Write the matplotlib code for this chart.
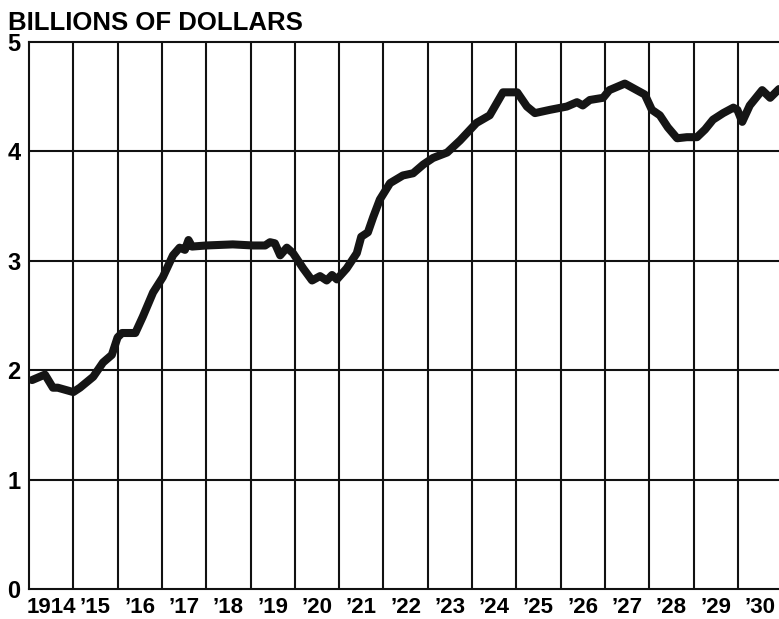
import matplotlib.pyplot as plt

# monthly-ish readings (year, billions of dollars)
years = [1914.07, 1914.36, 1914.54, 1914.65, 1915.0, 1915.15, 1915.45, 1915.67, 1915.87,
         1916.0, 1916.1, 1916.4, 1916.57, 1916.8, 1917.02, 1917.25, 1917.4, 1917.52,
         1917.6, 1917.68, 1918.0, 1918.6, 1919.06, 1919.33, 1919.44, 1919.55, 1919.67,
         1919.82, 1919.96, 1920.19, 1920.39, 1920.57, 1920.72, 1920.84, 1920.95,
         1921.17, 1921.4, 1921.5, 1921.65, 1921.77, 1921.92, 1922.15, 1922.44, 1922.67,
         1922.9, 1923.12, 1923.44, 1923.73, 1924.1, 1924.4, 1924.7, 1925.02, 1925.24,
         1925.42, 1925.76, 1926.14, 1926.37, 1926.5, 1926.66, 1926.96, 1927.1, 1927.45,
         1927.63, 1927.9, 1928.06, 1928.24, 1928.42, 1928.63, 1928.85, 1929.08, 1929.26,
         1929.44, 1929.67, 1929.9, 1929.99, 1930.1, 1930.27, 1930.55, 1930.73, 1930.93]
values = [1.91, 1.96, 1.84, 1.84, 1.80, 1.84, 1.94, 2.07, 2.14,
          2.30, 2.34, 2.34, 2.49, 2.71, 2.85, 3.05, 3.12, 3.10,
          3.19, 3.13, 3.14, 3.15, 3.14, 3.14, 3.17, 3.16, 3.05,
          3.12, 3.07, 2.93, 2.82, 2.86, 2.82, 2.87, 2.83,
          2.93, 3.07, 3.22, 3.26, 3.40, 3.56, 3.71, 3.78, 3.80,
          3.88, 3.94, 3.99, 4.10, 4.26, 4.33, 4.54, 4.54, 4.41,
          4.35, 4.38, 4.41, 4.45, 4.42, 4.47, 4.49, 4.56, 4.62,
          4.58, 4.52, 4.38, 4.33, 4.22, 4.12, 4.13, 4.13, 4.20,
          4.29, 4.35, 4.40, 4.38, 4.27, 4.42, 4.56, 4.49, 4.57]

year_labels = ["1914", "’15", "’16", "’17", "’18", "’19", "’20", "’21", "’22",
               "’23", "’24", "’25", "’26", "’27", "’28", "’29", "’30"]
y_ticks = [0, 1, 2, 3, 4, 5]

plt.rcParams["font.family"] = ["Liberation Sans", "DejaVu Sans"]
plt.rcParams["font.weight"] = "bold"

fig = plt.figure(figsize=(7.79, 6.19), dpi=100)
ax = fig.add_axes([29 / 779, 30 / 619, 750 / 779, 547 / 619])

ax.set_xlim(1914, 1930.93)
ax.set_ylim(0, 5)

# year grid lines and value grid lines
for yr in range(1915, 1931):
    ax.axvline(yr, color="#111111", lw=1.5, zorder=1)
for v in y_ticks[1:-1]:
    ax.axhline(v, color="#111111", lw=1.5, zorder=1)

ax.plot(years, values, color="#151515", lw=5.8, solid_joinstyle="round",
        solid_capstyle="round", zorder=3)

for s in ["left", "bottom", "top"]:
    ax.spines[s].set_linewidth(1.5)
    ax.spines[s].set_color("#111111")
ax.spines["right"].set_visible(False)

ax.set_xticks([1914.5 + i for i in range(len(year_labels))])
ax.set_xticklabels(year_labels, fontsize=16)
ax.set_yticks(y_ticks)
ax.set_yticklabels([str(t) for t in y_ticks], fontsize=17)
ax.tick_params(axis="x", length=0, pad=6)
ax.tick_params(axis="y", length=0, pad=6)

fig.text(8 / 779, 1 - 23 / 619, "BILLIONS OF DOLLARS", fontsize=18.5,
         va="center", ha="left")

fig.savefig("out.png", dpi=100)
